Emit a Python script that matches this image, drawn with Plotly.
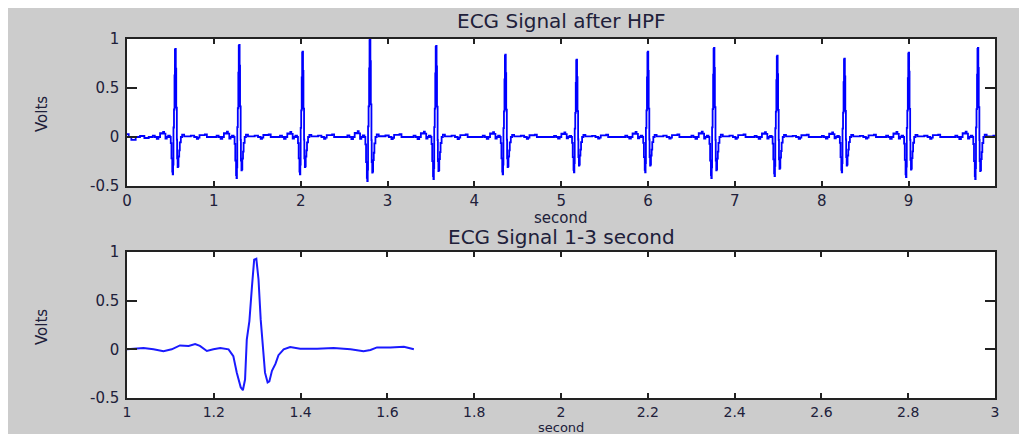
import plotly.graph_objects as go

# ---------------- data ----------------
# R-peak times (s), peak values and trough values of each beat in the 0-10 s record
beat_times = [0.555, 1.290, 2.020, 2.796, 3.558, 4.355, 5.176, 5.996, 6.758, 7.486, 8.260, 9.000, 9.797]
beat_peaks = [0.90, 0.94, 0.87, 1.00, 0.93, 0.84, 0.79, 0.87, 0.91, 0.83, 0.80, 0.86, 0.91]
beat_troughs = [-0.38, -0.42, -0.38, -0.45, -0.43, -0.38, -0.36, -0.36, -0.42, -0.40, -0.36, -0.41, -0.43]

# start of the record before the first beat
lead_t = [0.00, 0.02, 0.05, 0.10, 0.15, 0.20, 0.25]
lead_v = [0.03, 0.00, -0.03, 0.00, 0.01, -0.01, 0.00]

# the 1-3 second segment (lower panel)
seg_t = [1.000, 1.038, 1.061, 1.084, 1.103, 1.122, 1.142, 1.157, 1.168, 1.184, 1.199, 1.215,
         1.234, 1.245, 1.253, 1.262, 1.267, 1.272, 1.276, 1.282, 1.288, 1.293, 1.298, 1.303,
         1.308, 1.315, 1.318, 1.324, 1.328, 1.334, 1.342, 1.349, 1.361, 1.376, 1.399, 1.438,
         1.476, 1.515, 1.545, 1.561, 1.576, 1.607, 1.638, 1.661]
seg_v = [0.000, 0.014, 0.000, -0.020, 0.000, 0.040, 0.035, 0.055, 0.035, -0.017, 0.000, 0.014,
         0.000, -0.070, -0.240, -0.390, -0.420, -0.310, 0.100, 0.290, 0.650, 0.920, 0.930, 0.720,
         0.310, -0.030, -0.240, -0.340, -0.330, -0.220, -0.150, -0.060, 0.000, 0.024, 0.007, 0.007,
         0.014, 0.000, -0.020, -0.007, 0.020, 0.020, 0.027, 0.000]

x1_ticks = [0, 1, 2, 3, 4, 5, 6, 7, 8, 9]
x2_ticks = [1, 1.2, 1.4, 1.6, 1.8, 2, 2.2, 2.4, 2.6, 2.8, 3]
x2_labels = ["1", "1.2", "1.4", "1.6", "1.8", "2", "2.2", "2.4", "2.6", "2.8", "3"]
y_ticks = [-0.5, 0, 0.5, 1]
y_labels = ["-0.5", "0", "0.5", "1"]

# ---------------- build the full record from the beats ----------------
seg_peak_t = 1.296
seg_peak = max(seg_v)
seg_trough = min(seg_v)
top_t = list(lead_t)
top_v = list(lead_v)
for bt, pk, tr in zip(beat_times, beat_peaks, beat_troughs):
    for t, v in zip(seg_t, seg_v):
        top_t.append(bt + (t - seg_peak_t))
        top_v.append(v * pk / seg_peak if v > 0 else v * tr / seg_trough)

W, H = 1027, 434
OFF = 8  # page margin around the figure
px = lambda x: (x - OFF) / W
py = lambda y: 1 - (y - OFF) / H

TXT = "#20203a"
FONT = "DejaVu Sans"

fig = go.Figure()
fig.add_trace(go.Scatter(x=top_t, y=top_v, mode="lines", xaxis="x", yaxis="y",
                         line=dict(color="#0000ff", width=1.8, shape="hv"), showlegend=False))
fig.add_trace(go.Scatter(x=seg_t, y=seg_v, mode="lines", xaxis="x2", yaxis="y2",
                         line=dict(color="#1a1aff", width=2), showlegend=False))

axis_common = dict(showgrid=False, zeroline=False, showline=True, linecolor="#222222",
                   linewidth=1.5, mirror="ticks", ticks="inside", tickcolor="#222222",
                   tickwidth=1.5)

def tfont(size):
    return dict(family=FONT, size=size, color=TXT)

fig.update_layout(
    width=W, height=H,
    margin=dict(l=0, r=0, t=0, b=0, pad=0, autoexpand=False),
    paper_bgcolor="#cccccc", plot_bgcolor="white",
    xaxis=dict(domain=[px(127), px(995)], range=[0, 9.996], tickvals=x1_ticks,
               ticklen=5, anchor="y", tickfont=tfont(15), **axis_common),
    yaxis=dict(domain=[py(186), py(39)], range=[-0.5, 1], tickvals=y_ticks, ticktext=y_labels,
               ticklen=10, ticklabelstandoff=3, anchor="x", tickfont=tfont(15), **axis_common),
    xaxis2=dict(domain=[px(127), px(995)], range=[1, 3], tickvals=x2_ticks, ticktext=x2_labels,
                ticklen=5, anchor="y2", tickfont=tfont(14), **axis_common),
    yaxis2=dict(domain=[py(398), py(252)], range=[-0.5, 1], tickvals=y_ticks, ticktext=y_labels,
                ticklen=10, ticklabelstandoff=3, anchor="x2", tickfont=tfont(15), **axis_common),
)

ann = []
def label(text, x, y, size, angle=0):
    ann.append(dict(text=text, x=px(x), y=py(y), xref="paper", yref="paper",
                    xanchor="center", yanchor="middle", showarrow=False, textangle=angle,
                    font=dict(family=FONT, size=size, color=TXT)))

label("ECG Signal after HPF", 561, 21, 20)
label("second", 561, 218, 15)
label("ECG Signal 1-3 second", 561, 237, 20)
label("second", 561, 427, 13)
label("Volts", 42, 114, 15, -90)
label("Volts", 42, 327, 15, -90)
fig.update_layout(annotations=ann)

fig.write_html("out.html")
